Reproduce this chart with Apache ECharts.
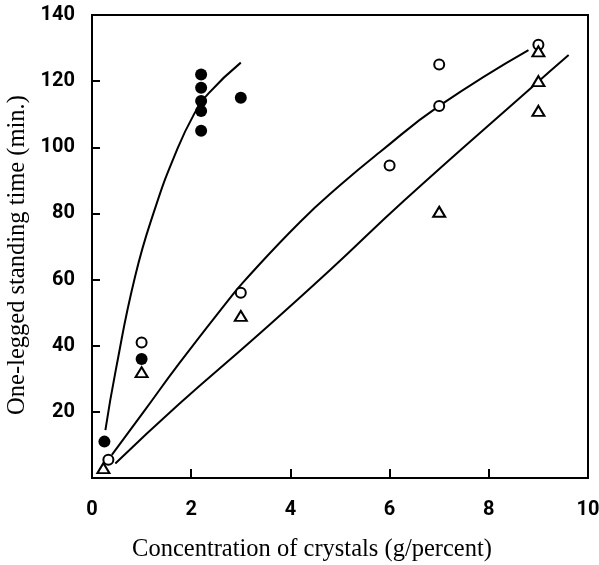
<!DOCTYPE html>
<html><head><meta charset="utf-8">
<script src="https://cdn.jsdelivr.net/npm/echarts@6/dist/echarts.min.js"></script>
<style>html,body{margin:0;padding:0;background:#fff}#c{width:599px;height:565px}</style>
</head><body><div id="c"></div>
<script>
// Data: filled circles
var filledX = [0.25, 1.0, 2.2, 2.2, 2.2, 2.2, 2.2, 3.0];
var filledY = [11, 36, 122, 118, 114, 111, 105, 115];
// Open circles
var openX = [0.33, 1.0, 3.0, 6.0, 7.0, 7.0, 9.0];
var openY = [5.5, 41, 56, 94.5, 125, 112.5, 131];
// Open triangles
var triX = [0.23, 1.0, 3.0, 7.0, 9.0, 9.0, 9.0];
var triY = [3, 32, 49, 80.5, 129, 120, 111];
// Fitted curves
var curve1X = [0.27, 0.48, 0.87, 1.26, 1.68, 2.05, 2.35, 3.0];
var curve1Y = [14.5, 32.7, 61, 81, 98, 109.8, 116.3, 125.6];
var curve2X = [0.40, 1.07, 1.75, 2.75, 3.06, 4.2, 5.0, 5.8, 7.0, 8.8];
var curve2Y = [7, 20.6, 34.5, 53.8, 59.4, 77.5, 88.5, 98.5, 112.5, 129.4];
var curve3X = [0.47, 1.75, 3.29, 4.8, 6.3, 8.84, 9.61];
var curve3Y = [4.4, 22.3, 42.5, 62.9, 84, 117.8, 127.9];
var xTicks = [0, 2, 4, 6, 8, 10];
var yTicks = [20, 40, 60, 80, 100, 120, 140];

function zip(a, b) { return a.map(function (v, i) { return [v, b[i]]; }); }

var chart = echarts.init(document.getElementById('c'));
var tickFont = "Roboto,'Liberation Sans',sans-serif";
var serif = "'Liberation Serif','DejaVu Serif',serif";
function curve(xs, ys) {
  return { type: 'line', data: zip(xs, ys), smooth: true, showSymbol: false,
    lineStyle: { color: '#000', width: 2 }, z: 1 };
}
chart.setOption({
  animation: false,
  backgroundColor: '#fff',
  grid: { left: 92, right: 11, top: 15, bottom: 87, containLabel: false, outerBoundsMode: 'none',
    show: true, borderColor: '#000', borderWidth: 2, backgroundColor: 'transparent' },
  xAxis: {
    type: 'value', min: 0, max: 10, interval: 2,
    axisLine: { show: true, lineStyle: { color: '#000', width: 2 } },
    axisTick: { show: true, inside: true, length: 9, lineStyle: { color: '#000', width: 2 } },
    splitLine: { show: false },
    axisLabel: { color: '#000', fontFamily: tickFont, fontWeight: 'bold', fontSize: 20, margin: 22,
      formatter: function (v) { return xTicks.indexOf(v) >= 0 ? String(v) : ''; } },
    name: 'Concentration of crystals (g/percent)', nameLocation: 'middle', nameGap: 59,
    nameTextStyle: { color: '#000', fontFamily: serif, fontSize: 24.5, padding: [0, 56, 0, 0] }
  },
  yAxis: {
    type: 'value', min: 0, max: 140, interval: 20,
    axisLine: { show: true, lineStyle: { color: '#000', width: 2 } },
    axisTick: { show: true, inside: true, length: 8, lineStyle: { color: '#000', width: 2 } },
    splitLine: { show: false },
    axisLabel: { color: '#000', fontFamily: tickFont, fontWeight: 'bold', fontSize: 20, margin: 17,
      formatter: function (v) { return yTicks.indexOf(v) >= 0 ? String(v) : ''; } },
    name: 'One-legged standing time (min.)', nameLocation: 'middle', nameGap: 61,
    nameTextStyle: { color: '#000', fontFamily: serif, fontSize: 24.5, padding: [0, 17, 0, 0] }
  },
  series: [
    curve(curve1X, curve1Y),
    curve(curve2X, curve2Y),
    curve(curve3X, curve3Y),
    { type: 'scatter', data: zip(filledX, filledY), symbol: 'circle', symbolSize: 12, itemStyle: { color: '#000', opacity: 1 }, z: 3 },
    { type: 'scatter', data: zip(openX, openY), symbol: 'circle', symbolSize: 10, itemStyle: { color: '#fff', borderColor: '#000', borderWidth: 2, opacity: 1 }, z: 3 },
    { type: 'scatter', data: zip(triX, triY), symbol: 'triangle', symbolSize: [12, 10], itemStyle: { color: '#fff', borderColor: '#000', borderWidth: 2, opacity: 1 }, z: 3 }
  ]
});
</script></body></html>
